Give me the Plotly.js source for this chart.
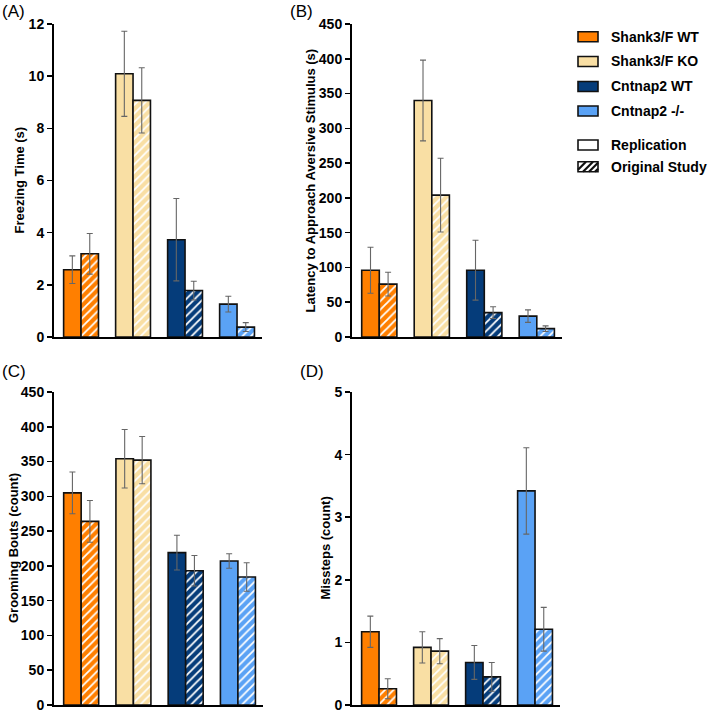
<!DOCTYPE html>
<html>
<head>
<meta charset="utf-8">
<script src="https://cdn.plot.ly/plotly-3.0.1.min.js"></script>
<style>html,body{margin:0;padding:0;background:#fff;}#chart{width:709px;height:712px;}</style>
</head>
<body>
<div id="chart"></div>
<script>
// ---- data ----
const categories = ['Shank3/F WT', 'Shank3/F KO', 'Cntnap2 WT', 'Cntnap2 -/-'];
const groupColors = ['#FF7F00', '#F9DFA4', '#053C7A', '#5AA2F5'];

const freezeRep = [2.58, 10.09, 3.73, 1.26];
const freezeRepErr = [0.53, 1.63, 1.58, 0.30];
const freezeOrig = [3.19, 9.07, 1.78, 0.38];
const freezeOrigErr = [0.78, 1.25, 0.36, 0.17];

const latencyRep = [96, 340, 96, 30];
const latencyRepErr = [33, 58, 43, 9];
const latencyOrig = [76, 204, 35, 12];
const latencyOrigErr = [17, 53, 8.5, 4];

const groomRep = [305, 354, 219, 207];
const groomRepErr = [30, 42, 25, 10.5];
const groomOrig = [264, 352, 193, 184];
const groomOrigErr = [30, 34, 22, 20.5];

const missRep = [1.17, 0.92, 0.68, 3.42];
const missRepErr = [0.25, 0.25, 0.27, 0.69];
const missOrig = [0.26, 0.86, 0.45, 1.21];
const missOrigErr = [0.16, 0.20, 0.23, 0.35];

const legendLabels = ['Shank3/F WT', 'Shank3/F KO', 'Cntnap2 WT', 'Cntnap2 -/-'];
const studyLabels = ['Replication', 'Original Study'];
const panelLabels = ['(A)', '(B)', '(C)', '(D)'];
const yTitles = ['Freezing Time (s)', 'Latency to Approach Aversive Stimulus (s)', 'Grooming Bouts (count)', 'Missteps (count)'];

// ---- layout helpers ----
const W = 709, H = 712;
const px = v => v / W;
const py = v => 1 - v / H;
const FONT = 'Liberation Sans, Arial, Helvetica, sans-serif';

const panels = [
  {rep: freezeRep, repErr: freezeRepErr, orig: freezeOrig, origErr: freezeOrigErr, ymax: 12, dtick: 2, x0: 54, x1: 262, y0: 24, y1: 337},
  {rep: latencyRep, repErr: latencyRepErr, orig: latencyOrig, origErr: latencyOrigErr, ymax: 450, dtick: 50, x0: 352, x1: 562, y0: 24, y1: 337},
  {rep: groomRep, repErr: groomRepErr, orig: groomOrig, origErr: groomOrigErr, ymax: 450, dtick: 50, x0: 54, x1: 263, y0: 392, y1: 705},
  {rep: missRep, repErr: missRepErr, orig: missOrig, origErr: missOrigErr, ymax: 5, dtick: 1, x0: 352, x1: 560, y0: 392, y1: 705}
];

const data = [];
const layout = {
  width: W, height: H,
  margin: {l: 0, r: 0, t: 0, b: 0},
  paper_bgcolor: '#fff', plot_bgcolor: '#fff',
  showlegend: false,
  barmode: 'group', bargap: 0.33, bargroupgap: 0,
  font: {family: FONT, color: '#000'},
  annotations: [], shapes: []
};

const labelPos = [[0, 11], [288, 11], [0, 371], [298, 371]];
const titleX = [19, 310, 13.5, 325];

panels.forEach((p, i) => {
  const xa = 'x' + (i === 0 ? '' : i + 1);
  const ya = 'y' + (i === 0 ? '' : i + 1);
  data.push({
    type: 'bar', x: categories, y: p.rep, xaxis: xa, yaxis: ya, offsetgroup: 'rep',
    marker: {color: groupColors, line: {color: '#111', width: 1.6}},
    error_y: {type: 'data', array: p.repErr, visible: true, color: '#666', thickness: 1.1, width: 3},
    hoverinfo: 'skip'
  });
  categories.forEach((c, k) => {
    data.push({
      type: 'bar', x: [c], y: [p.orig[k]], xaxis: xa, yaxis: ya, offsetgroup: 'orig',
      marker: {color: groupColors[k], line: {color: '#111', width: 1.6},
        pattern: {shape: '/', fillmode: 'overlay', bgcolor: groupColors[k], fgcolor: '#ffffff', fgopacity: 1, size: 6, solidity: 0.3}},
      error_y: {type: 'data', array: [p.origErr[k]], visible: true, color: '#666', thickness: 1.1, width: 3},
      hoverinfo: 'skip'
    });
  });
  const xk = 'xaxis' + (i === 0 ? '' : i + 1);
  const yk = 'yaxis' + (i === 0 ? '' : i + 1);
  layout[xk] = {
    domain: [px(p.x0), px(p.x1)], anchor: ya, type: 'category', categoryarray: categories, categoryorder: 'array',
    range: [-0.52, 3.48], showline: true, linecolor: '#000', linewidth: 2,
    showticklabels: false, ticks: '', showgrid: false, zeroline: false, fixedrange: true
  };
  layout[yk] = {
    domain: [py(p.y1), py(p.y0)], anchor: xa,
    range: [0, p.ymax], dtick: p.dtick, tick0: 0,
    showline: true, linecolor: '#000', linewidth: 2,
    ticks: 'outside', ticklen: 5, tickwidth: 1.6, tickcolor: '#000',
    ticklabeloverflow: 'allow', tickprefix: '<b>', ticksuffix: '</b>',
    tickfont: {family: FONT, size: 14, weight: 700, color: '#000'},
    showgrid: false, zeroline: false, fixedrange: true
  };
  layout.annotations.push({
    xref: 'paper', yref: 'paper', x: px(labelPos[i][0]), y: py(labelPos[i][1]),
    xanchor: 'left', yanchor: 'middle', showarrow: false, text: panelLabels[i],
    font: {family: FONT, size: 17, color: '#000'}
  });
  layout.annotations.push({
    xref: 'paper', yref: 'paper', x: px(titleX[i]), y: py((p.y0 + p.y1) / 2),
    xanchor: 'center', yanchor: 'middle', showarrow: false, textangle: -90, text: '<b>' + yTitles[i] + '</b>',
    font: {family: FONT, size: 13, color: '#000'}
  });
});

// ---- legend (drawn) ----
const rowY = [36.7, 61.5, 86.5, 111, 145, 166.7];
const sx0 = 578, sx1 = 598, sh = 5;
legendLabels.forEach((lab, k) => {
  layout.shapes.push({type: 'rect', xref: 'paper', yref: 'paper',
    x0: px(sx0), x1: px(sx1), y0: py(rowY[k] + sh), y1: py(rowY[k] - sh),
    fillcolor: groupColors[k], line: {color: '#111', width: 1.6}});
  layout.annotations.push({xref: 'paper', yref: 'paper', x: px(609), y: py(rowY[k]),
    xanchor: 'left', yanchor: 'middle', showarrow: false, text: '<b>' + lab + '</b>',
    font: {family: FONT, size: 14, color: '#000'}});
});
studyLabels.forEach((lab, j) => {
  const k = 4 + j;
  layout.shapes.push({type: 'rect', xref: 'paper', yref: 'paper',
    x0: px(sx0), x1: px(sx1), y0: py(rowY[k] + sh), y1: py(rowY[k] - sh),
    fillcolor: '#fff', line: {color: '#111', width: 1.6}});
  if (j === 1) {
    const top = rowY[k] - sh, bot = rowY[k] + sh;
    const segs = [[578, bot - 2, 586, top], [583, bot, 593, top], [589, bot, 598, top + 1], [595, bot, 598, bot - 3]];
    let d = '';
    segs.forEach(s => { d += 'M' + px(s[0]) + ',' + py(s[1]) + ' L' + px(s[2]) + ',' + py(s[3]) + ' '; });
    layout.shapes.push({type: 'path', xref: 'paper', yref: 'paper', path: d, line: {color: '#111', width: 2.2}});
  }
  layout.annotations.push({xref: 'paper', yref: 'paper', x: px(609), y: py(rowY[k]),
    xanchor: 'left', yanchor: 'middle', showarrow: false, text: '<b>' + lab + '</b>',
    font: {family: FONT, size: 14, color: '#000'}});
});

Plotly.newPlot('chart', data, layout, {staticPlot: true, displayModeBar: false});
</script>
</body>
</html>
